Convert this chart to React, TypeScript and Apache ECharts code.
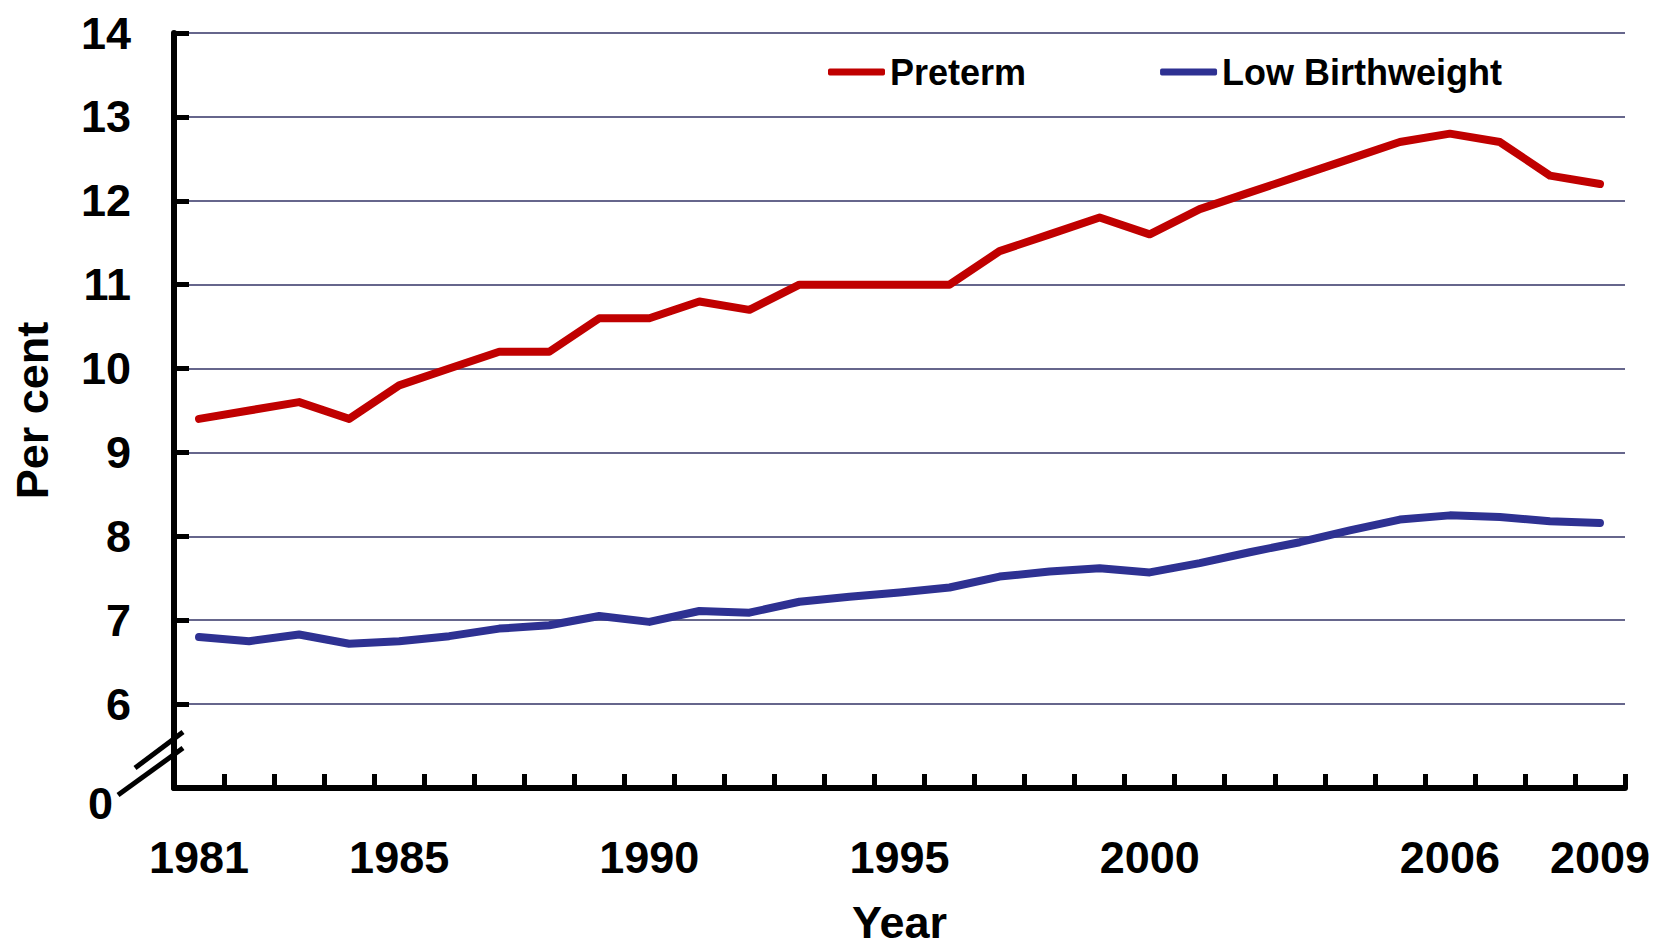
import React, { useEffect, useRef } from "react";
import * as echarts from "echarts";

const years = [
  "1981", "1982", "1983", "1984", "1985", "1986", "1987", "1988", "1989", "1990",
  "1991", "1992", "1993", "1994", "1995", "1996", "1997", "1998", "1999", "2000",
  "2001", "2002", "2003", "2004", "2005", "2006", "2007", "2008", "2009",
];
const labeledYears = ["1981", "1985", "1990", "1995", "2000", "2006", "2009"];
const preterm = [
  9.4, 9.5, 9.6, 9.4, 9.8, 10.0, 10.2, 10.2, 10.6, 10.6,
  10.8, 10.7, 11.0, 11.0, 11.0, 11.0, 11.4, 11.6, 11.8, 11.6,
  11.9, 12.1, 12.3, 12.5, 12.7, 12.8, 12.7, 12.3, 12.2,
];
const lowBirthweight = [
  6.8, 6.75, 6.83, 6.72, 6.75, 6.81, 6.9, 6.94, 7.05, 6.98,
  7.11, 7.09, 7.22, 7.28, 7.33, 7.39, 7.52, 7.58, 7.62, 7.57,
  7.68, 7.81, 7.93, 8.07, 8.2, 8.25, 8.23, 8.18, 8.16,
];
const yTickValues = [6, 7, 8, 9, 10, 11, 12, 13, 14];
const brokenAxisLabel = "0";

const FONT = '"Liberation Sans", Arial, sans-serif';

export default function App() {
  const ref = useRef<HTMLDivElement>(null);
  useEffect(() => {
    document.body.style.margin = "0";
    document.body.style.overflow = "hidden";
    const chart = echarts.init(ref.current!, null, { renderer: "svg" });
    chart.setOption({
      animation: false,
      backgroundColor: "#ffffff",
      textStyle: { fontFamily: FONT },
      grid: {
        left: 174,
        right: 30,
        top: 33,
        bottom: 163,
        containLabel: false,
        outerBoundsMode: "none",
      },
      legend: {
        left: 828,
        top: 54,
        padding: 0,
        itemGap: 134,
        itemWidth: 57,
        itemHeight: 7,
        icon: "roundRect",
        textStyle: { fontFamily: FONT, fontWeight: "bold", fontSize: 36, color: "#000" },
        data: ["Preterm", "Low Birthweight"],
      },
      xAxis: {
        type: "category",
        data: years,
        boundaryGap: true,
        name: "Year",
        nameLocation: "middle",
        nameGap: 112,
        nameTextStyle: { fontFamily: FONT, fontWeight: "bold", fontSize: 45, color: "#000" },
        axisLine: { show: true, lineStyle: { color: "#000", width: 6 } },
        axisTick: { show: true, inside: true, length: 14, interval: 0, lineStyle: { color: "#000", width: 5 } },
        axisLabel: {
          interval: 0,
          margin: 47,
          fontFamily: FONT,
          fontWeight: "bold",
          fontSize: 45,
          color: "#000",
          formatter: (v: string) => (labeledYears.includes(v) ? v : ""),
        },
        splitLine: { show: false },
      },
      yAxis: {
        type: "value",
        min: 5,
        max: 14,
        interval: 1,
        name: "Per cent",
        nameLocation: "middle",
        nameRotate: 90,
        nameGap: 119,
        nameTextStyle: { fontFamily: FONT, fontWeight: "bold", fontSize: 45, color: "#000" },
        axisLine: { show: true, lineStyle: { color: "#000", width: 6 } },
        axisTick: { show: true, inside: true, length: 15, lineStyle: { color: "#000", width: 5 } },
        axisLabel: {
          margin: 43,
          fontFamily: FONT,
          fontWeight: "bold",
          fontSize: 45,
          color: "#000",
          formatter: (v: number) => (yTickValues.includes(v) ? String(v) : ""),
        },
        splitLine: {
          show: true,
          lineStyle: { color: "#66668C", width: 2 },
        },
      },
      series: [
        {
          name: "Preterm",
          type: "line",
          data: preterm,
          showSymbol: false,
          symbol: "none",
          color: "#C00000",
          lineStyle: { color: "#C00000", width: 8, cap: "round", join: "round" },
          itemStyle: { color: "#C00000" },
        },
        {
          name: "Low Birthweight",
          type: "line",
          data: lowBirthweight,
          showSymbol: false,
          symbol: "none",
          color: "#2E3192",
          lineStyle: { color: "#2E3192", width: 8, cap: "round", join: "round" },
          itemStyle: { color: "#2E3192" },
        },
      ],
      graphic: [
        {
          type: "line",
          shape: { x1: 118, y1: 795, x2: 183, y2: 748 },
          style: { stroke: "#000", lineWidth: 5 },
          z: 100,
        },
        {
          type: "line",
          shape: { x1: 135, y1: 768, x2: 183, y2: 732 },
          style: { stroke: "#000", lineWidth: 5 },
          z: 100,
        },
        {
          type: "text",
          x: 113,
          y: 803,
          style: {
            text: brokenAxisLabel,
            fontFamily: FONT,
            fontWeight: "bold",
            fontSize: 45,
            fill: "#000",
            align: "right",
            verticalAlign: "middle",
          },
          z: 100,
        },
      ],
    });
    return () => chart.dispose();
  }, []);
  return <div ref={ref} style={{ width: 1655, height: 951 }} />;
}
